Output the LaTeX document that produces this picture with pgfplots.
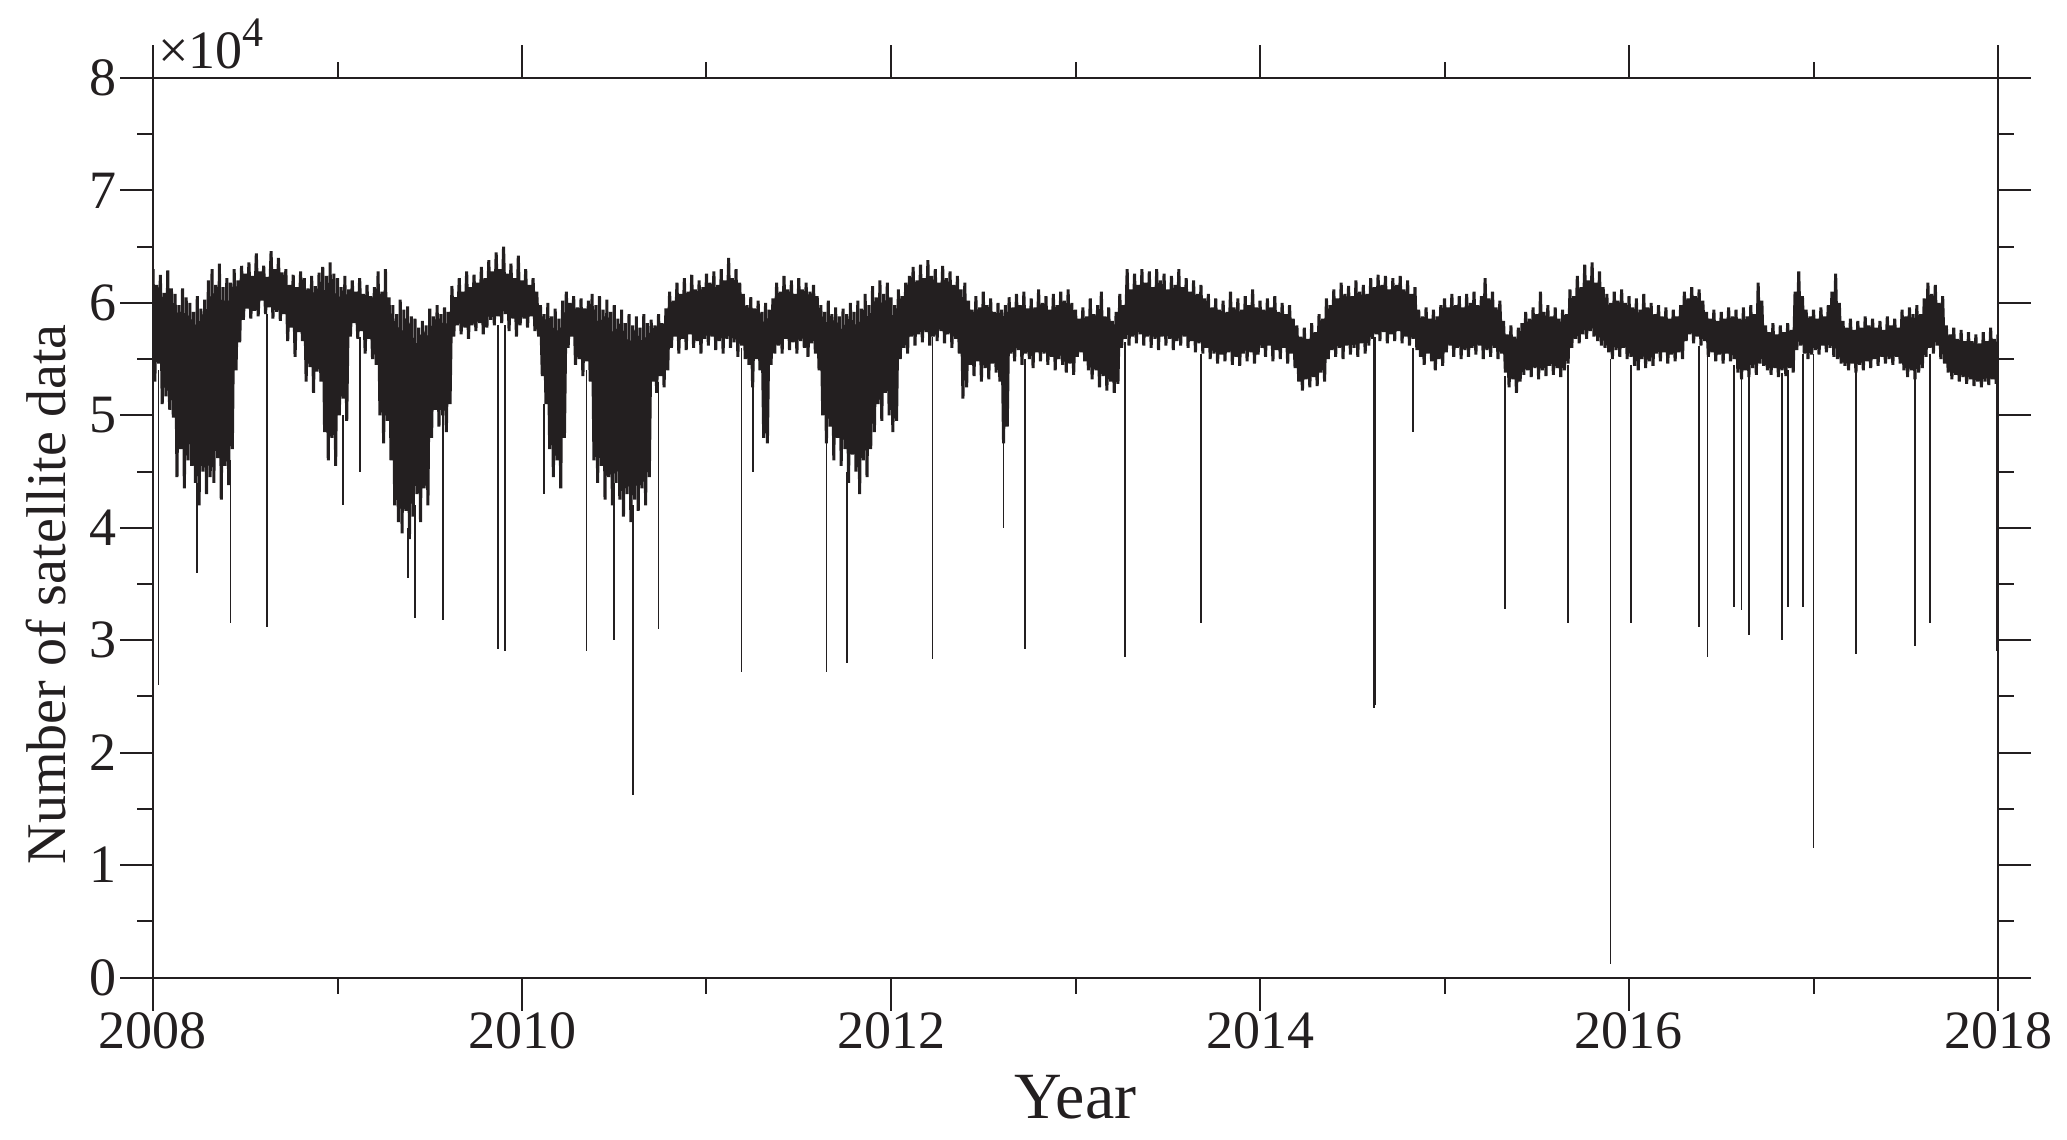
\documentclass[border=0pt]{standalone}
\usepackage{fontspec}
\setmainfont{Liberation Serif}
\usepackage{pgfplots}
\usepackage{pgfplotstable}
\pgfplotsset{compat=1.18}
\definecolor{ink}{RGB}{35,31,32}

% dense record: peaks on the even hundredths, troughs on the odd ones
\pgfplotstableread{
x y
2008.00 63000
2008.01 53000
2008.02 61600
2008.03 54600
2008.04 62500
2008.05 51000
2008.06 60900
2008.07 51700
2008.08 62900
2008.09 50500
2008.10 61300
2008.11 49800
2008.12 60800
2008.13 44500
2008.14 59800
2008.15 47000
2008.16 61300
2008.17 43500
2008.18 60500
2008.19 46000
2008.20 60000
2008.21 45500
2008.22 59200
2008.23 44000
2008.24 60600
2008.25 42000
2008.26 59500
2008.27 45000
2008.28 60300
2008.29 43000
2008.30 62000
2008.31 44500
2008.32 63000
2008.33 44000
2008.34 61600
2008.35 46200
2008.36 63500
2008.37 42500
2008.38 61400
2008.39 45500
2008.40 62200
2008.41 43800
2008.42 61800
2008.43 47000
2008.44 63000
2008.45 54000
2008.46 62000
2008.47 56500
2008.48 63300
2008.49 58500
2008.50 62600
2008.51 59500
2008.52 63600
2008.53 58600
2008.54 62400
2008.55 59300
2008.56 64400
2008.57 58800
2008.58 62800
2008.59 60200
2008.60 63300
2008.61 59000
2008.62 62300
2008.63 59600
2008.64 64600
2008.65 58600
2008.66 63000
2008.67 59200
2008.68 64000
2008.69 58400
2008.70 62700
2008.71 59000
2008.72 63000
2008.73 56600
2008.74 61600
2008.75 57800
2008.76 62500
2008.77 55200
2008.78 61400
2008.79 57400
2008.80 62800
2008.81 56600
2008.82 62200
2008.83 53000
2008.84 61300
2008.85 54300
2008.86 62400
2008.87 52000
2008.88 61500
2008.89 53900
2008.90 62700
2008.91 53000
2008.92 63200
2008.93 48500
2008.94 62400
2008.95 46000
2008.96 63600
2008.97 48000
2008.98 62600
2008.99 45500
2009.00 62200
2009.01 50000
2009.02 61400
2009.03 51500
2009.04 62400
2009.05 49500
2009.06 61200
2009.07 57000
2009.08 62000
2009.09 58200
2009.10 61000
2009.11 56800
2009.12 62200
2009.13 57500
2009.14 60800
2009.15 55500
2009.16 61600
2009.17 56800
2009.18 60600
2009.19 55000
2009.20 61400
2009.21 54500
2009.22 62800
2009.23 50000
2009.24 61000
2009.25 47500
2009.26 63000
2009.27 49500
2009.28 60500
2009.29 46000
2009.30 59800
2009.31 42000
2009.32 59000
2009.33 40500
2009.34 60300
2009.35 39500
2009.36 59400
2009.37 41500
2009.38 59700
2009.39 39000
2009.40 58800
2009.41 41000
2009.42 58600
2009.43 43000
2009.44 57800
2009.45 40500
2009.46 58400
2009.47 43500
2009.48 58000
2009.49 42000
2009.50 59500
2009.51 48000
2009.52 58800
2009.53 50500
2009.54 59800
2009.55 49000
2009.56 59000
2009.57 50000
2009.58 59600
2009.59 48500
2009.60 59200
2009.61 51000
2009.62 61500
2009.63 57000
2009.64 60500
2009.65 58000
2009.66 62200
2009.67 57200
2009.68 61000
2009.69 57800
2009.70 62800
2009.71 56800
2009.72 61400
2009.73 58000
2009.74 62500
2009.75 57500
2009.76 61800
2009.77 58200
2009.78 63200
2009.79 57200
2009.80 62200
2009.81 57800
2009.82 63800
2009.83 58500
2009.84 62800
2009.85 58000
2009.86 64500
2009.87 58800
2009.88 63000
2009.89 58200
2009.90 65000
2009.91 59000
2009.92 62600
2009.93 57500
2009.94 63500
2009.95 58600
2009.96 62200
2009.97 57000
2009.98 64200
2009.99 58000
2010.00 62000
2010.01 58600
2010.02 63000
2010.03 57800
2010.04 61600
2010.05 58800
2010.06 62200
2010.07 57500
2010.08 61000
2010.09 57000
2010.10 59800
2010.11 53500
2010.12 59000
2010.13 51000
2010.14 60000
2010.15 47000
2010.16 58800
2010.17 44500
2010.18 59500
2010.19 46000
2010.20 58600
2010.21 43500
2010.22 60200
2010.23 48000
2010.24 61000
2010.25 56000
2010.26 60000
2010.27 57000
2010.28 60600
2010.29 54500
2010.30 59600
2010.31 55000
2010.32 60400
2010.33 53500
2010.34 59500
2010.35 54800
2010.36 60200
2010.37 53000
2010.38 60800
2010.39 46000
2010.40 59800
2010.41 44000
2010.42 60600
2010.43 45500
2010.44 59400
2010.45 42500
2010.46 60300
2010.47 44500
2010.48 59200
2010.49 42000
2010.50 59800
2010.51 44000
2010.52 58600
2010.53 42500
2010.54 59400
2010.55 41000
2010.56 58200
2010.57 43000
2010.58 59000
2010.59 40500
2010.60 58000
2010.61 42500
2010.62 58800
2010.63 41500
2010.64 57800
2010.65 43500
2010.66 59000
2010.67 42000
2010.68 58200
2010.69 44500
2010.70 58500
2010.71 53000
2010.72 58000
2010.73 52000
2010.74 59000
2010.75 53500
2010.76 58200
2010.77 52500
2010.78 59500
2010.79 54000
2010.80 61000
2010.81 56000
2010.82 60200
2010.83 57000
2010.84 61800
2010.85 55500
2010.86 60800
2010.87 56800
2010.88 62200
2010.89 55800
2010.90 61000
2010.91 57200
2010.92 62500
2010.93 56000
2010.94 61200
2010.95 56600
2010.96 62000
2010.97 55500
2010.98 61400
2010.99 56800
2011.00 62600
2011.01 56200
2011.02 61800
2011.03 57000
2011.04 62800
2011.05 55800
2011.06 61600
2011.07 56600
2011.08 63000
2011.09 55500
2011.10 62000
2011.11 56800
2011.12 64000
2011.13 56000
2011.14 62200
2011.15 56500
2011.16 63000
2011.17 55200
2011.18 61800
2011.19 56200
2011.20 60800
2011.21 55000
2011.22 59800
2011.23 54500
2011.24 60500
2011.25 52500
2011.26 59500
2011.27 55000
2011.28 60200
2011.29 54000
2011.30 59200
2011.31 48000
2011.32 60000
2011.33 47500
2011.34 59400
2011.35 54500
2011.36 60400
2011.37 55500
2011.38 61800
2011.39 56200
2011.40 61000
2011.41 55500
2011.42 62400
2011.43 56800
2011.44 61200
2011.45 55800
2011.46 62000
2011.47 56500
2011.48 60800
2011.49 55500
2011.50 62200
2011.51 56600
2011.52 61200
2011.53 56000
2011.54 61800
2011.55 55200
2011.56 61000
2011.57 56400
2011.58 61600
2011.59 55500
2011.60 60600
2011.61 54000
2011.62 59800
2011.63 50000
2011.64 59200
2011.65 47500
2011.66 60200
2011.67 49000
2011.68 59000
2011.69 46000
2011.70 59600
2011.71 48000
2011.72 58800
2011.73 45500
2011.74 59500
2011.75 47000
2011.76 59000
2011.77 44000
2011.78 60000
2011.79 46500
2011.80 59200
2011.81 45000
2011.82 60200
2011.83 43000
2011.84 59500
2011.85 46000
2011.86 60800
2011.87 44500
2011.88 59800
2011.89 47000
2011.90 61500
2011.91 48500
2011.92 60500
2011.93 51000
2011.94 62000
2011.95 49500
2011.96 60800
2011.97 52000
2011.98 61800
2011.99 50000
2012.00 60500
2012.01 48500
2012.02 59800
2012.03 49500
2012.04 61200
2012.05 55000
2012.06 60600
2012.07 56000
2012.08 61800
2012.09 55500
2012.10 62400
2012.11 57000
2012.12 63200
2012.13 56200
2012.14 62000
2012.15 57200
2012.16 63400
2012.17 56500
2012.18 62200
2012.19 57400
2012.20 63800
2012.21 56200
2012.22 62400
2012.23 57000
2012.24 63000
2012.25 56600
2012.26 61800
2012.27 57500
2012.28 63300
2012.29 56400
2012.30 62200
2012.31 57200
2012.32 62800
2012.33 56000
2012.34 61600
2012.35 56800
2012.36 62400
2012.37 55500
2012.38 61200
2012.39 51500
2012.40 61800
2012.41 52500
2012.42 60200
2012.43 54500
2012.44 59400
2012.45 53500
2012.46 60600
2012.47 54800
2012.48 59600
2012.49 53000
2012.50 61000
2012.51 54200
2012.52 59800
2012.53 53200
2012.54 60400
2012.55 54600
2012.56 59200
2012.57 53800
2012.58 60000
2012.59 53000
2012.60 59400
2012.61 47500
2012.62 59800
2012.63 49000
2012.64 60500
2012.65 55500
2012.66 59600
2012.67 54800
2012.68 60800
2012.69 55800
2012.70 59800
2012.71 54500
2012.72 61000
2012.73 55500
2012.74 59500
2012.75 55000
2012.76 60400
2012.77 54200
2012.78 59600
2012.79 55600
2012.80 61200
2012.81 54800
2012.82 60000
2012.83 55500
2012.84 60600
2012.85 54500
2012.86 59400
2012.87 55200
2012.88 60800
2012.89 54000
2012.90 59800
2012.91 55000
2012.92 61000
2012.93 54500
2012.94 60200
2012.95 53800
2012.96 61200
2012.97 54600
2012.98 60000
2012.99 53600
2013.00 59400
2013.01 55200
2013.02 58600
2013.03 55600
2013.04 59600
2013.05 54800
2013.06 58800
2013.07 54000
2013.08 60400
2013.09 53200
2013.10 59000
2013.11 54000
2013.12 59800
2013.13 52500
2013.14 61000
2013.15 53500
2013.16 58800
2013.17 52200
2013.18 59600
2013.19 53000
2013.20 58400
2013.21 52000
2013.22 59200
2013.23 52800
2013.24 60800
2013.25 56000
2013.26 59800
2013.27 56800
2013.28 63000
2013.29 56200
2013.30 61200
2013.31 57000
2013.32 62600
2013.33 56400
2013.34 61600
2013.35 57200
2013.36 63000
2013.37 56200
2013.38 61800
2013.39 57000
2013.40 62800
2013.41 56000
2013.42 61400
2013.43 56800
2013.44 63000
2013.45 55800
2013.46 62000
2013.47 57000
2013.48 62600
2013.49 56200
2013.50 61200
2013.51 56800
2013.52 62400
2013.53 55800
2013.54 61600
2013.55 56600
2013.56 63000
2013.57 56200
2013.58 61400
2013.59 57000
2013.60 62200
2013.61 56000
2013.62 61000
2013.63 56600
2013.64 62000
2013.65 55600
2013.66 60800
2013.67 56400
2013.68 61600
2013.69 55500
2013.70 60400
2013.71 56000
2013.72 60800
2013.73 55000
2013.74 59600
2013.75 55500
2013.76 60400
2013.77 54600
2013.78 59400
2013.79 55400
2013.80 60200
2013.81 54800
2013.82 59200
2013.83 55600
2013.84 61000
2013.85 54500
2013.86 59600
2013.87 55200
2013.88 60400
2013.89 54400
2013.90 59400
2013.91 55500
2013.92 60600
2013.93 54800
2013.94 59800
2013.95 55600
2013.96 61200
2013.97 54600
2013.98 59600
2013.99 55400
2014.00 60200
2014.01 56000
2014.02 59400
2014.03 55200
2014.04 60400
2014.05 56200
2014.06 59600
2014.07 54800
2014.08 60600
2014.09 55800
2014.10 59200
2014.11 55000
2014.12 60000
2014.13 56000
2014.14 59000
2014.15 54600
2014.16 59800
2014.17 55500
2014.18 58600
2014.19 54200
2014.20 58000
2014.21 53000
2014.22 57000
2014.23 52200
2014.24 57800
2014.25 53200
2014.26 56800
2014.27 52500
2014.28 58200
2014.29 53400
2014.30 57400
2014.31 52600
2014.32 59000
2014.33 53800
2014.34 58600
2014.35 53000
2014.36 60400
2014.37 55000
2014.38 59800
2014.39 55800
2014.40 61200
2014.41 55200
2014.42 60400
2014.43 56000
2014.44 61800
2014.45 55000
2014.46 60800
2014.47 56200
2014.48 61500
2014.49 55400
2014.50 60600
2014.51 56000
2014.52 62000
2014.53 55200
2014.54 61000
2014.55 56400
2014.56 61600
2014.57 55500
2014.58 60800
2014.59 56200
2014.60 62200
2014.61 56800
2014.62 61400
2014.63 57200
2014.64 62500
2014.65 56600
2014.66 61600
2014.67 57400
2014.68 62400
2014.69 56400
2014.70 61200
2014.71 57200
2014.72 62200
2014.73 56600
2014.74 61600
2014.75 57500
2014.76 62400
2014.77 56400
2014.78 61200
2014.79 57000
2014.80 62000
2014.81 56200
2014.82 60800
2014.83 56800
2014.84 61400
2014.85 55800
2014.86 59400
2014.87 55200
2014.88 58800
2014.89 54500
2014.90 59600
2014.91 55500
2014.92 58600
2014.93 54800
2014.94 59400
2014.95 54000
2014.96 58800
2014.97 55000
2014.98 59800
2014.99 54400
2015.00 60400
2015.01 55600
2015.02 59600
2015.03 56200
2015.04 60800
2015.05 55200
2015.06 59800
2015.07 56000
2015.08 60600
2015.09 55000
2015.10 59600
2015.11 55800
2015.12 60800
2015.13 55200
2015.14 60000
2015.15 56000
2015.16 61000
2015.17 55400
2015.18 59800
2015.19 56200
2015.20 60600
2015.21 55000
2015.22 62200
2015.23 55800
2015.24 60400
2015.25 55200
2015.26 61000
2015.27 56000
2015.28 59600
2015.29 55000
2015.30 60200
2015.31 55500
2015.32 58400
2015.33 53800
2015.34 57200
2015.35 52500
2015.36 58000
2015.37 53200
2015.38 57000
2015.39 52000
2015.40 57800
2015.41 53000
2015.42 58200
2015.43 53600
2015.44 59200
2015.45 54000
2015.46 58600
2015.47 53400
2015.48 59600
2015.49 54200
2015.50 59000
2015.51 53200
2015.52 61000
2015.53 54000
2015.54 59200
2015.55 53500
2015.56 59800
2015.57 54400
2015.58 58800
2015.59 53600
2015.60 59600
2015.61 54200
2015.62 58600
2015.63 53400
2015.64 59400
2015.65 54000
2015.66 59000
2015.67 54600
2015.68 61200
2015.69 56000
2015.70 60600
2015.71 56800
2015.72 62400
2015.73 56400
2015.74 61400
2015.75 57200
2015.76 63400
2015.77 56800
2015.78 62000
2015.79 57500
2015.80 63600
2015.81 57000
2015.82 61800
2015.83 56600
2015.84 62800
2015.85 56200
2015.86 61400
2015.87 56000
2015.88 60800
2015.89 55600
2015.90 60000
2015.91 55000
2015.92 61000
2015.93 55800
2015.94 60200
2015.95 55200
2015.96 61200
2015.97 56000
2015.98 60000
2015.99 55000
2016.00 60600
2016.01 55200
2016.02 59600
2016.03 54400
2016.04 60400
2016.05 54000
2016.06 59400
2016.07 55000
2016.08 60800
2016.09 54200
2016.10 59600
2016.11 54800
2016.12 60000
2016.13 54400
2016.14 59000
2016.15 55500
2016.16 59800
2016.17 54800
2016.18 58800
2016.19 55600
2016.20 59600
2016.21 54600
2016.22 58600
2016.23 55400
2016.24 59400
2016.25 54800
2016.26 58800
2016.27 55600
2016.28 59800
2016.29 55000
2016.30 61000
2016.31 56600
2016.32 60400
2016.33 57200
2016.34 61400
2016.35 56400
2016.36 60600
2016.37 57000
2016.38 61200
2016.39 56200
2016.40 60200
2016.41 56600
2016.42 59200
2016.43 55200
2016.44 58600
2016.45 55600
2016.46 59400
2016.47 54800
2016.48 58400
2016.49 55400
2016.50 59200
2016.51 54600
2016.52 58600
2016.53 55500
2016.54 59600
2016.55 54800
2016.56 58800
2016.57 55000
2016.58 59400
2016.59 53800
2016.60 58600
2016.61 53200
2016.62 59600
2016.63 54000
2016.64 58800
2016.65 53400
2016.66 59800
2016.67 54200
2016.68 59000
2016.69 53600
2016.70 61800
2016.71 54600
2016.72 60200
2016.73 54400
2016.74 58000
2016.75 54000
2016.76 57400
2016.77 53600
2016.78 58200
2016.79 54200
2016.80 57200
2016.81 53400
2016.82 58000
2016.83 54000
2016.84 57400
2016.85 53500
2016.86 58200
2016.87 54200
2016.88 57600
2016.89 53800
2016.90 61000
2016.91 55800
2016.92 62800
2016.93 56200
2016.94 60600
2016.95 55500
2016.96 59400
2016.97 55000
2016.98 58800
2016.99 55400
2017.00 59400
2017.01 55800
2017.02 58600
2017.03 55400
2017.04 59600
2017.05 56200
2017.06 58800
2017.07 55600
2017.08 59800
2017.09 56000
2017.10 61000
2017.11 55200
2017.12 62600
2017.13 55000
2017.14 60000
2017.15 54600
2017.16 58400
2017.17 54400
2017.18 57800
2017.19 54000
2017.20 58600
2017.21 54600
2017.22 57600
2017.23 53800
2017.24 58400
2017.25 54500
2017.26 57800
2017.27 54000
2017.28 58800
2017.29 54800
2017.30 58000
2017.31 54200
2017.32 58600
2017.33 55000
2017.34 57800
2017.35 54400
2017.36 58400
2017.37 55200
2017.38 57600
2017.39 54600
2017.40 58800
2017.41 55000
2017.42 58000
2017.43 54500
2017.44 58600
2017.45 55200
2017.46 57800
2017.47 54600
2017.48 59400
2017.49 54000
2017.50 58800
2017.51 53400
2017.52 59600
2017.53 54000
2017.54 59000
2017.55 53200
2017.56 59800
2017.57 53800
2017.58 59000
2017.59 54200
2017.60 60400
2017.61 55200
2017.62 61800
2017.63 56000
2017.64 60800
2017.65 55500
2017.66 61600
2017.67 56200
2017.68 60000
2017.69 55000
2017.70 60600
2017.71 54600
2017.72 58000
2017.73 53800
2017.74 57200
2017.75 53200
2017.76 57800
2017.77 53600
2017.78 56800
2017.79 53000
2017.80 57600
2017.81 53400
2017.82 56600
2017.83 52800
2017.84 57400
2017.85 53200
2017.86 56600
2017.87 52600
2017.88 57200
2017.89 53000
2017.90 56400
2017.91 52500
2017.92 57400
2017.93 53000
2017.94 56600
2017.95 52700
2017.96 57800
2017.97 53200
2017.98 56800
2017.99 52800
2018.00 57200
}\band

% isolated drop-outs: top, bottom, break
\pgfplotstableread{
x y
2008.03 54000
2008.03 26000
2008.03 nan
2008.24 44000
2008.24 36000
2008.24 nan
2008.42 46000
2008.42 31500
2008.42 nan
2008.62 59000
2008.62 31200
2008.62 nan
2009.03 50000
2009.03 42000
2009.03 nan
2009.12 57000
2009.12 45000
2009.12 nan
2009.38 40000
2009.38 35500
2009.38 nan
2009.42 42000
2009.42 32000
2009.42 nan
2009.57 50000
2009.57 31800
2009.57 nan
2009.87 58000
2009.87 29200
2009.87 nan
2009.91 58000
2009.91 29000
2009.91 nan
2010.12 51000
2010.12 43000
2010.12 nan
2010.35 54000
2010.35 29000
2010.35 nan
2010.50 44000
2010.50 30000
2010.50 nan
2010.60 42000
2010.60 16200
2010.60 nan
2010.74 53000
2010.74 31000
2010.74 nan
2011.19 56000
2011.19 27200
2011.19 nan
2011.25 53000
2011.25 45000
2011.25 nan
2011.65 48000
2011.65 27200
2011.65 nan
2011.76 45000
2011.76 28000
2011.76 nan
2012.225 57000
2012.225 28300
2012.225 nan
2012.61 48000
2012.61 40000
2012.61 nan
2012.725 55000
2012.725 29200
2012.725 nan
2013.27 56500
2013.27 28500
2013.27 nan
2013.68 55500
2013.68 31500
2013.68 nan
2014.618 57000
2014.618 24000
2014.618 nan
2014.624 57000
2014.624 24200
2014.624 nan
2014.83 56000
2014.83 48500
2014.83 nan
2015.33 53500
2015.33 32800
2015.33 nan
2015.67 54500
2015.67 31500
2015.67 nan
2015.90 55000
2015.90 1200
2015.90 nan
2016.01 54500
2016.01 31500
2016.01 nan
2016.38 56200
2016.38 31200
2016.38 nan
2016.425 55500
2016.425 28500
2016.425 nan
2016.57 54500
2016.57 33000
2016.57 nan
2016.61 53500
2016.61 32700
2016.61 nan
2016.65 53800
2016.65 30500
2016.65 nan
2016.83 53800
2016.83 30000
2016.83 nan
2016.86 54000
2016.86 33000
2016.86 nan
2016.945 55500
2016.945 33000
2016.945 nan
2017.00 55500
2017.00 11500
2017.00 nan
2017.23 54000
2017.23 28800
2017.23 nan
2017.55 53500
2017.55 29500
2017.55 nan
2017.63 55500
2017.63 31500
2017.63 nan
2017.995 53000
2017.995 29000
2017.995 nan
}\spikes

\begin{document}
\begin{tikzpicture}
\begin{axis}[
  scale only axis, width=461.25pt, height=224.9pt,
  xmin=2008, xmax=2018, ymin=0, ymax=80000,
  xtick={2008,2010,...,2018}, minor xtick={2009,2011,...,2017},
  ytick={0,10000,...,80000}, minor ytick={5000,15000,...,75000},
  scaled y ticks=base 10:-4,
  ytick scale label code/.code={×10\raisebox{0.42em}{\fontsize{10.5pt}{10pt}\selectfont 4}},
  every y tick scale label/.style={at={(rel axis cs:0,1)}, anchor=south west,
    inner sep=0pt, yshift=2pt, xshift=-1.5pt, font=\fontsize{13.5pt}{16pt}\selectfont, text=ink},
  tick align=outside, major tick length=8.25pt, minor tick length=4pt,
  every tick/.style={ink, line width=0.5pt},
  axis line style={ink, line width=0.5pt},
  ticklabel style={font=\fontsize{13.5pt}{16pt}\selectfont, text=ink},
  yticklabel style={xshift=2.6pt},
  xticklabel style={yshift=3pt},
  /pgf/number format/assume math mode=true,
  /pgf/number format/1000 sep={},
  xlabel={Year}, ylabel={Number of satellite data},
  every axis x label/.style={at={(axis description cs:0.5,-0.1334)}, anchor=center,
    font=\fontsize{16.5pt}{19pt}\selectfont, text=ink},
  every axis y label/.style={at={(axis description cs:-0.058,0.426)}, anchor=center,
    rotate=90, font=\fontsize{14pt}{17pt}\selectfont, text=ink},
]
\addplot[ink, line width=0.75pt] table[x=x, y=y] {\band};
\addplot[ink, line width=0.45pt, unbounded coords=jump] table[x=x, y=y] {\spikes};
\coordinate (ll) at (rel axis cs:0,0);
\coordinate (ur) at (rel axis cs:1,1);
\end{axis}
\pgfresetboundingbox
\path ([shift={(-38.25pt,-40.6pt)}]ll) rectangle ([shift={(17.25pt,19.5pt)}]ur);
\end{tikzpicture}
\end{document}
